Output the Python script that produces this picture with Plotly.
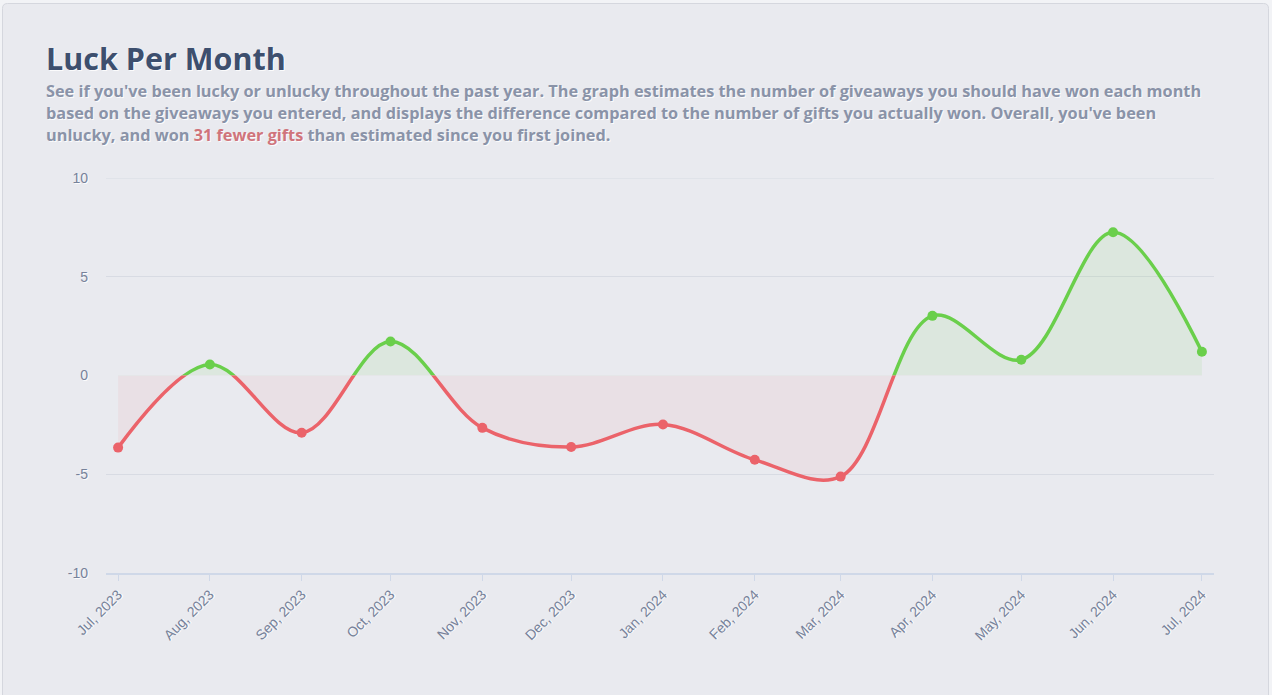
import plotly.graph_objects as go

# ---------------- data ----------------
months = ['2023-07-01', '2023-08-01', '2023-09-01', '2023-10-01', '2023-11-01',
          '2023-12-01', '2024-01-01', '2024-02-01', '2024-03-01', '2024-04-01',
          '2024-05-01', '2024-06-01', '2024-07-01']
month_labels = ['Jul, 2023', 'Aug, 2023', 'Sep, 2023', 'Oct, 2023', 'Nov, 2023',
                'Dec, 2023', 'Jan, 2024', 'Feb, 2024', 'Mar, 2024', 'Apr, 2024',
                'May, 2024', 'Jun, 2024', 'Jul, 2024']
luck = [-3.65, 0.56, -2.9, 1.72, -2.65, -3.62, -2.48, -4.27, -5.12, 3.02, 0.8, 7.25, 1.2]
pos_ticks = [5, 10]
pos_tick_text = ['5', '10']
neg_ticks = [-10, -5, 0]
neg_tick_text = ['-10', '-5', '0']

title = 'Luck Per Month'
sub_lines = [
    "See if you've been lucky or unlucky throughout the past year. The graph estimates the number of giveaways you should have won each month",
    "based on the giveaways you entered, and displays the difference compared to the number of gifts you actually won. Overall, you've been",
    "unlucky, and won <span style='color:#d0747b'>31 fewer gifts</span> than estimated since you first joined.",
]

# ---------------- styling ----------------
W, H = 1272, 695
L, R, T, B = 106, 58, 178, 122
pw, ph = W - L - R, H - T - B


def px(x):
    return (x - L) / pw


def py(y):
    return (H - B - y) / ph


GREEN = '#6acf4b'
RED = '#eb636a'
BG = '#e9eaef'
GRID = '#d8dbe3'
TICK = '#77829a'
SHADOW = '1px 1px 0px rgba(255,255,255,0.85)'
tickfont = dict(family='Liberation Sans, Arial', size=14, color=TICK, shadow=SHADOW)

fig = go.Figure()
fig.add_trace(go.Scatter(
    x=months, y=luck, xaxis='x', yaxis='y', mode='lines+markers',
    line=dict(color=GREEN, width=3.5, shape='spline', smoothing=1),
    marker=dict(color=GREEN, size=10),
    fill='tozeroy', fillcolor='rgba(106,207,76,0.10)', hoverinfo='skip'))
fig.add_trace(go.Scatter(
    x=months, y=luck, xaxis='x', yaxis='y2', mode='lines+markers',
    line=dict(color=RED, width=3.5, shape='spline', smoothing=1),
    marker=dict(color=RED, size=10),
    fill='tozeroy', fillcolor='rgba(235,99,105,0.07)', hoverinfo='skip'))

# card shape
x0, x1 = px(2.5), px(1268.5)
yt, yb = py(3.5), py(730)
rx, ry = 5 / pw, 5 / ph
card = (f"M {x0 + rx},{yt} L {x1 - rx},{yt} Q {x1},{yt} {x1},{yt - ry} "
        f"L {x1},{yb} L {x0},{yb} L {x0},{yt - ry} Q {x0},{yt} {x0 + rx},{yt} Z")

annotations = [dict(
    text='<b>' + title + '</b>', x=px(44), y=py(58), xref='paper', yref='paper',
    xanchor='left', yanchor='middle', showarrow=False,
    font=dict(family='Open Sans', size=30.5, color='#3d4f6e', shadow=SHADOW))]
for i, line in enumerate(sub_lines):
    annotations.append(dict(
        text='<b>' + line + '</b>', x=px(44), y=py(91 + 22 * i), xref='paper', yref='paper',
        xanchor='left', yanchor='middle', showarrow=False,
        font=dict(family='Open Sans', size=16.3, color='#8a93a8', shadow=SHADOW)))

fig.update_layout(
    width=W, height=H,
    margin=dict(l=L, r=R, t=T, b=B),
    paper_bgcolor='#f2f3f6', plot_bgcolor='rgba(0,0,0,0)',
    showlegend=False, hovermode=False,
    shapes=[dict(type='path', path=card, xref='paper', yref='paper',
                 fillcolor=BG, line=dict(color='#d5d7de', width=1), layer='below'),
            dict(type='line', xref='paper', yref='y', x0=0, x1=1, y0=pos_ticks[-1], y1=pos_ticks[-1],
                 line=dict(color=GRID, width=1), layer='below')],
    annotations=annotations,
    xaxis=dict(type='date', range=['2023-06-26 22:00', '2024-07-05 02:00'], anchor='y2',
               tickvals=months, ticktext=month_labels, tickangle=-45,
               ticks='outside', ticklen=6, tickcolor='#cfd8e8', tickwidth=1,
               showline=True, linecolor='#cfd8e8', linewidth=2,
               showgrid=False, zeroline=False, tickfont=tickfont, fixedrange=True),
    yaxis=dict(domain=[0.5, 1], range=[0, 10], tickvals=pos_ticks, ticktext=pos_tick_text,
               anchor='x', showgrid=True, gridcolor=GRID, gridwidth=1, zeroline=False,
               tickfont=tickfont, ticklabelstandoff=17, fixedrange=True),
    yaxis2=dict(domain=[0, 0.5], range=[-10, 0], tickvals=neg_ticks, ticktext=neg_tick_text,
                anchor='x', showgrid=True, gridcolor=GRID, gridwidth=1, zeroline=False,
                tickfont=tickfont, ticklabelstandoff=17, fixedrange=True),
)

fig.write_html('out.html', config={'displayModeBar': False})
